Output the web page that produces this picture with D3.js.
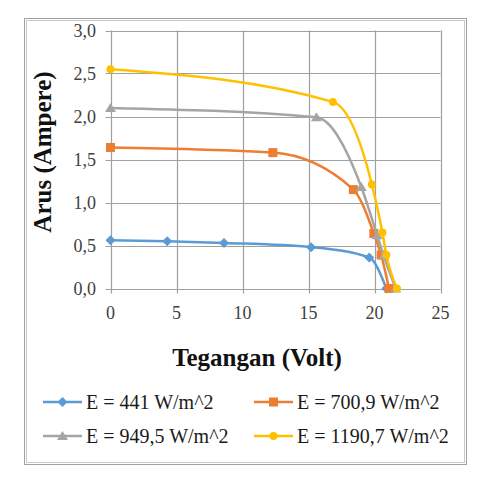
<!DOCTYPE html>
<html><head><meta charset="utf-8">
<script src="https://cdn.jsdelivr.net/npm/d3@7"></script>
</head><body style="margin:0">
<script>
const seriesNames = ["E = 441 W/m^2","E = 700,9 W/m^2","E = 949,5 W/m^2","E = 1190,7 W/m^2"];
const colors = ["#5b9bd5","#ed7d31","#a5a5a5","#ffc000"];
const markers = ["diamond","square","triangle","circle"];
const v441 = [0, 4.3, 8.6, 15.2, 19.6, 20.9];
const i441 = [0.56, 0.55, 0.53, 0.48, 0.36, 0.0];
const v700 = [0, 12.3, 18.4, 19.95, 20.5, 21.1];
const i700 = [1.64, 1.58, 1.15, 0.64, 0.39, 0.0];
const v949 = [0, 15.6, 19.0, 20.2, 20.7, 21.6];
const i949 = [2.1, 1.99, 1.18, 0.62, 0.38, 0.0];
const v1190 = [0, 16.85, 19.8, 20.6, 20.9, 21.7];
const i1190 = [2.55, 2.17, 1.21, 0.65, 0.39, 0.0];
const xTicks = [0,5,10,15,20,25];
const yTicks = [0,0.5,1.0,1.5,2.0,2.5,3.0];
const xTitle = "Tegangan (Volt)";
const yTitle = "Arus (Ampere)";

const series = [[v441,i441],[v700,i700],[v949,i949],[v1190,i1190]].map((s,k)=>({
  name: seriesNames[k], color: colors[k], marker: markers[k],
  pts: s[0].map((v,j)=>({x:v,y:s[1][j]}))
}));

const fams=["Liberation Serif"];
const FONT=`"${fams[0]}"`;
const W=497,H=484;
const svg=d3.select("body").append("svg").attr("width",W).attr("height",H);
svg.append("rect").attr("width",W).attr("height",H).attr("fill","#fff");
svg.append("rect").attr("x",24.5).attr("y",18.5).attr("width",442).attr("height",446).attr("fill","none").attr("stroke","#a0a0a0").attr("stroke-width",1);
svg.append("rect").attr("x",26.5).attr("y",20.5).attr("width",438).attr("height",442).attr("fill","none").attr("stroke","#c8c8c8").attr("stroke-width",1);

const x=d3.scaleLinear().domain([0,25]).range([110.5,440.5]);
const y=d3.scaleLinear().domain([0,3]).range([288.5,30.5]);
const gridColor="#a0a0a0";

svg.append("g").selectAll("line").data(yTicks).join("line")
  .attr("x1",x(0)-5).attr("x2",x(25)).attr("y1",d=>Math.round(y(d))+0.5).attr("y2",d=>Math.round(y(d))+0.5)
  .attr("stroke",gridColor).attr("stroke-width",1.2);
svg.append("g").selectAll("line").data(xTicks).join("line")
  .attr("y1",y(3)).attr("y2",y(0)+5).attr("x1",d=>Math.round(x(d))+0.5).attr("x2",d=>Math.round(x(d))+0.5)
  .attr("stroke",gridColor).attr("stroke-width",1.2);

const fmt=d=>d3.format(".1f")(d).replace(".",",");
svg.append("g").selectAll("text").data(yTicks).join("text")
  .attr("x",96).attr("y",d=>y(d)+6).attr("text-anchor","end")
  .style("font-family",FONT).attr("font-size",18).attr("fill","#404040").text(fmt);
svg.append("g").selectAll("text").data(xTicks).join("text")
  .attr("x",d=>x(d)).attr("y",319).attr("text-anchor","middle")
  .style("font-family",FONT).attr("font-size",18).attr("fill","#404040").text(d=>d);

svg.append("text").attr("x",257).attr("y",366).attr("text-anchor","middle")
  .style("font-family",FONT).attr("font-size",25).attr("font-weight","bold").attr("fill","#111").text(xTitle);
svg.append("text").attr("transform","translate(51,152) rotate(-90)").attr("text-anchor","middle")
  .style("font-family",FONT).attr("font-size",25).attr("font-weight","bold").attr("fill","#111").text(yTitle);

const line=d3.line().x(d=>x(d.x)).y(d=>y(d.y)).curve(d3.curveMonotoneX);

function drawMarker(g,type,cx,cy,color){
  if(type==="diamond"){
    g.append("path").attr("d",`M${cx},${cy-5}L${cx+5},${cy}L${cx},${cy+5}L${cx-5},${cy}Z`).attr("fill",color);
  } else if(type==="square"){
    g.append("rect").attr("x",cx-4.5).attr("y",cy-4.5).attr("width",9).attr("height",9).attr("fill",color);
  } else if(type==="triangle"){
    g.append("path").attr("d",`M${cx},${cy-5}L${cx+5.5},${cy+4}L${cx-5.5},${cy+4}Z`).attr("fill",color);
  } else {
    g.append("circle").attr("cx",cx).attr("cy",cy).attr("r",4).attr("fill",color);
  }
}

series.forEach(s=>{
  svg.append("path").datum(s.pts).attr("d",line).attr("fill","none")
    .attr("stroke",s.color).attr("stroke-width",2.5).attr("stroke-linejoin","round");
  const g=svg.append("g");
  s.pts.forEach(p=>drawMarker(g,s.marker,x(p.x),y(p.y),s.color));
});

const legPos=[[43,402],[254,402],[43,436],[254,436]];
series.forEach((s,k)=>{
  const [lx,ly]=legPos[k];
  const g=svg.append("g");
  g.append("line").attr("x1",lx).attr("x2",lx+39).attr("y1",ly).attr("y2",ly).attr("stroke",s.color).attr("stroke-width",2.5);
  drawMarker(g,s.marker,lx+19.5,ly,s.color);
  g.append("text").attr("x",lx+43).attr("y",ly+6.5)
    .style("font-family",FONT).attr("font-size",20).attr("fill","#1a1a1a").text(s.name);
});
</script>
</body></html>
